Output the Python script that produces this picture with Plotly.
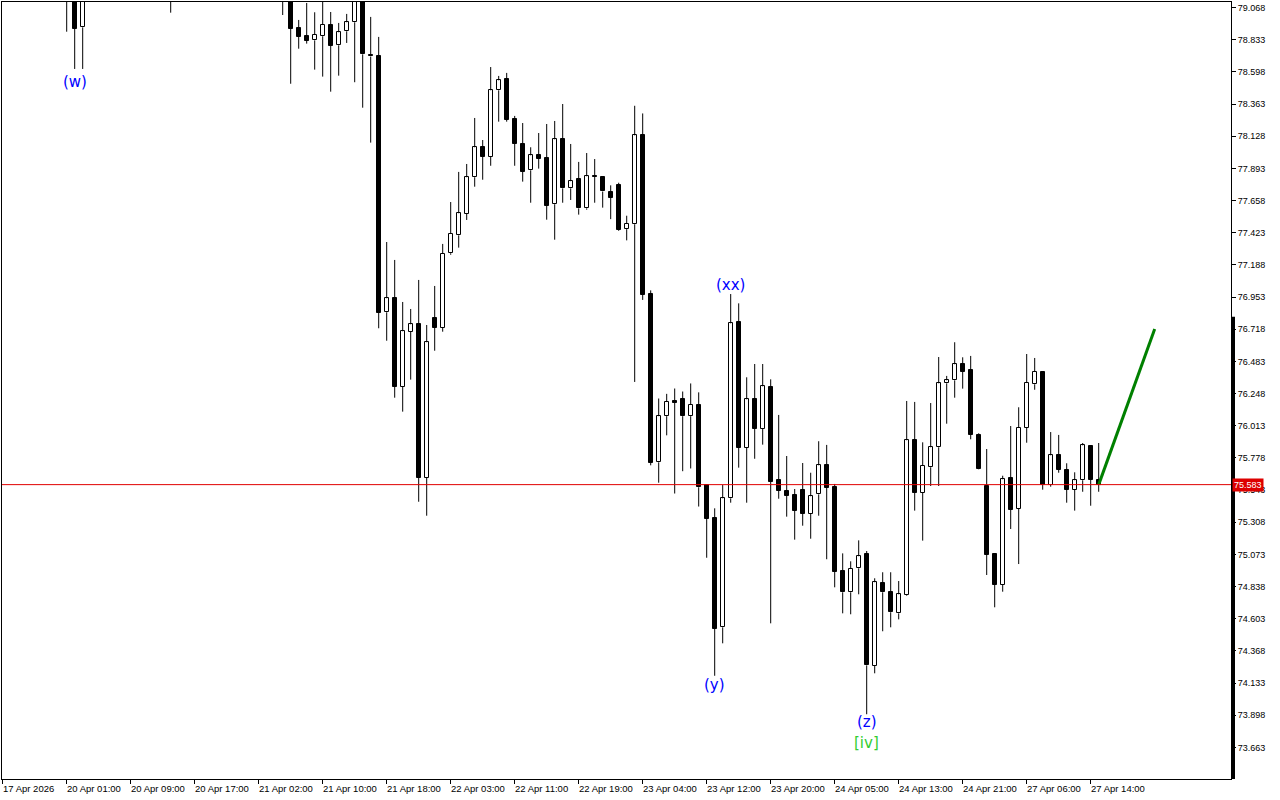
import plotly.graph_objects as go

# ---------------- data ----------------
open_ = [79.45, 79.52, 79.61, 79.55, 79.46, 79.38, 79.42, 79.33, 79.25, 79.20,
         78.923, 79.21, 79.31, 79.38, 79.44, 79.40, 79.45, 79.53, 79.48, 79.42,
         79.36, 79.27, 79.21, 79.30, 79.37, 79.43, 79.50, 79.47, 79.52, 79.58,
         79.54, 79.45, 79.39, 79.44, 79.34, 79.27, 79.20, 78.918, 78.860, 78.828,
         78.858, 78.940, 78.792, 78.894, 78.960, 79.115, 78.721, 78.714, 76.842, 76.944,
         76.298, 76.700, 76.754, 75.634, 76.798, 76.727, 77.273, 77.404, 77.562, 77.828,
         78.047, 77.978, 78.463, 78.544, 78.251, 78.069, 77.879, 77.988, 77.967, 77.631,
         78.105, 77.747, 77.813, 77.601, 77.835, 77.831, 77.718, 77.775, 77.449, 77.485,
         78.134, 76.977, 75.746, 76.083, 76.192, 76.207, 76.083, 76.168, 75.577, 75.339,
         74.541, 75.483, 76.769, 75.853, 76.208, 75.992, 76.296, 75.615, 75.534, 75.505,
         75.542, 75.371, 75.512, 75.724, 75.564, 74.952, 74.797, 74.972, 75.074, 74.258,
         74.862, 74.797, 74.643, 74.775, 75.907, 75.524, 75.710, 75.856, 76.323, 76.345,
         76.462, 76.418, 75.946, 75.573, 75.076, 74.852, 75.631, 75.407, 75.997, 76.316,
         76.406, 75.583, 75.799, 75.692, 75.546, 75.615, 75.865, 75.619]
high = [79.58, 79.66, 79.70, 79.62, 79.54, 79.47, 79.51, 79.40, 79.31, 79.24,
        79.26, 79.36, 79.42, 79.50, 79.52, 79.49, 79.58, 79.60, 79.55, 79.50,
        79.44, 79.33, 79.35, 79.41, 79.47, 79.55, 79.61, 79.56, 79.63, 79.66,
        79.60, 79.52, 79.48, 79.50, 79.41, 79.33, 79.24, 78.977, 79.101, 79.033,
        79.12, 79.035, 78.955, 79.021, 79.15, 79.14, 78.999, 78.853, 77.355, 77.224,
        76.917, 76.866, 77.078, 76.749, 77.034, 77.341, 77.647, 77.867, 77.925, 78.261,
        78.100, 78.633, 78.568, 78.590, 78.276, 78.224, 78.047, 78.151, 78.217, 78.239,
        78.363, 78.071, 77.940, 78.005, 77.961, 77.837, 77.769, 77.788, 77.547, 78.350,
        78.294, 77.002, 76.212, 76.246, 76.285, 76.263, 76.322, 76.257, 75.580, 75.410,
        75.580, 76.975, 76.907, 76.367, 76.464, 76.464, 76.352, 76.092, 75.792, 75.551,
        75.741, 75.670, 75.900, 75.873, 75.588, 75.081, 75.023, 75.176, 75.098, 74.899,
        74.943, 74.943, 74.879, 76.194, 76.187, 75.892, 76.179, 76.515, 76.377, 76.623,
        76.513, 76.523, 75.958, 75.843, 75.076, 75.648, 76.011, 76.148, 76.537, 76.508,
        76.406, 75.967, 75.946, 75.739, 75.673, 75.887, 75.865, 75.887]
low = [79.38, 79.47, 79.50, 79.41, 79.33, 79.30, 79.29, 79.18, 78.891, 78.619,
       78.619, 79.16, 79.25, 79.33, 79.35, 79.31, 79.41, 79.44, 79.37, 79.30,
       79.19, 79.030, 79.17, 79.24, 79.30, 79.38, 79.44, 79.39, 79.45, 79.49,
       79.40, 79.33, 79.30, 79.28, 79.22, 79.013, 78.511, 78.767, 78.804, 78.614,
       78.563, 78.453, 78.570, 78.809, 78.522, 78.336, 78.081, 76.725, 76.634, 76.218,
       76.116, 76.350, 75.458, 75.356, 76.561, 76.700, 77.262, 77.314, 77.516, 77.759,
       77.810, 77.912, 78.234, 78.234, 77.912, 77.796, 77.642, 77.891, 77.518, 77.372,
       77.642, 77.662, 77.555, 77.591, 77.642, 77.606, 77.522, 77.437, 77.367, 76.333,
       76.932, 75.724, 75.597, 75.943, 75.518, 75.681, 75.701, 75.423, 75.049, 74.187,
       74.424, 75.451, 75.707, 75.451, 75.772, 75.875, 74.570, 75.480, 75.349, 75.181,
       75.283, 75.188, 75.356, 75.038, 74.833, 74.643, 74.636, 74.782, 73.906, 74.205,
       74.512, 74.541, 74.599, 74.770, 75.393, 75.174, 75.573, 75.573, 76.028, 76.218,
       76.284, 75.914, 75.695, 74.923, 74.687, 74.801, 75.259, 75.003, 75.889, 76.276,
       75.546, 75.568, 75.670, 75.451, 75.393, 75.531, 75.429, 75.531]
close = [79.52, 79.61, 79.55, 79.46, 79.38, 79.42, 79.33, 79.25, 79.20, 78.913,
         79.21, 79.31, 79.38, 79.44, 79.40, 79.45, 79.53, 79.48, 79.42, 79.36,
         79.27, 79.21, 79.30, 79.37, 79.43, 79.50, 79.47, 79.52, 79.58, 79.54,
         79.45, 79.39, 79.44, 79.34, 79.27, 79.20, 78.913, 78.855, 78.826, 78.867,
         78.940, 78.789, 78.887, 78.960, 79.115, 78.726, 78.710, 76.839, 76.944, 76.298,
         76.703, 76.754, 75.634, 76.623, 76.729, 77.268, 77.414, 77.565, 77.828, 78.047,
         77.978, 78.463, 78.536, 78.248, 78.073, 77.869, 77.988, 77.964, 77.620, 78.105,
         77.747, 77.799, 77.601, 77.835, 77.832, 77.724, 77.677, 77.446, 77.488, 78.134,
         76.968, 75.743, 76.083, 76.187, 76.181, 76.083, 76.165, 75.564, 75.334, 74.531,
         75.483, 76.761, 75.853, 76.206, 75.992, 76.301, 75.604, 75.539, 75.502, 75.393,
         75.371, 75.498, 75.724, 75.561, 74.948, 74.797, 74.969, 75.060, 74.263, 74.870,
         74.797, 74.651, 74.782, 75.907, 75.524, 75.721, 75.856, 76.323, 76.345, 76.462,
         76.408, 75.948, 75.699, 75.071, 74.852, 75.622, 75.400, 75.997, 76.325, 76.406,
         75.583, 75.797, 75.692, 75.546, 75.615, 75.870, 75.619, 75.583]

x_tick_labels = ["17 Apr 2026", "20 Apr 01:00", "20 Apr 09:00", "20 Apr 17:00",
                 "21 Apr 02:00", "21 Apr 10:00", "21 Apr 18:00", "22 Apr 03:00",
                 "22 Apr 11:00", "22 Apr 19:00", "23 Apr 04:00", "23 Apr 12:00",
                 "23 Apr 20:00", "24 Apr 05:00", "24 Apr 13:00", "24 Apr 21:00",
                 "27 Apr 06:00", "27 Apr 14:00"]
bars_per_tick = 8

y_tick_labels = ["73.663", "73.898", "74.133", "74.368", "74.603", "74.838",
                 "75.073", "75.308", "75.543", "75.778", "76.013", "76.248",
                 "76.483", "76.718", "76.953", "77.188", "77.423", "77.658",
                 "77.893", "78.128", "78.363", "78.598", "78.833", "79.068"]

current_price = 75.583

forecast_x = [137, 144]
forecast_y = [75.583, 76.72]

wave_text = ["(w)", "(xx)", "(y)", "(z)", "[iv]"]
wave_x = [9, 91, 89, 108, 108]
wave_y = [78.525, 77.041, 74.120, 73.849, 73.696]
wave_color = ["#0000ff", "#0000ff", "#0000ff", "#0000ff", "#32cd32"]

# ---------------- figure ----------------
n = len(open_)
idx = list(range(n))

# wicks (upper and lower parts, not crossing the body)
wx, wy = [], []
for i in idx:
    top = max(open_[i], close[i])
    bot = min(open_[i], close[i])
    if high[i] > top:
        wx += [i, i, None]
        wy += [high[i], top, None]
    if low[i] < bot:
        wx += [i, i, None]
        wy += [bot, low[i], None]

body_base = [min(o, c) for o, c in zip(open_, close)]
body_h = [abs(c - o) for o, c in zip(open_, close)]
body_fill = ["#ffffff" if c >= o else "#000000" for o, c in zip(open_, close)]

fig = go.Figure()
fig.add_trace(go.Scatter(x=wx, y=wy, mode="lines",
                         line=dict(color="#000000", width=1),
                         hoverinfo="skip", showlegend=False))
fig.add_trace(go.Bar(x=idx, y=body_h, base=body_base, width=0.5,
                     marker=dict(color=body_fill,
                                 line=dict(color="#000000", width=1)),
                     hoverinfo="skip", showlegend=False))
fig.add_trace(go.Scatter(x=forecast_x, y=forecast_y, mode="lines",
                         line=dict(color="#008000", width=3),
                         hoverinfo="skip", showlegend=False))

fig.add_shape(type="line", xref="paper", x0=0, x1=1, yref="y",
              y0=current_price, y1=current_price,
              line=dict(color="#e00000", width=1))

# thick bar on the right price scale
fig.add_shape(type="rect", xref="paper", yref="paper",
              x0=1.0, x1=1.0 + 4 / 1229, y0=0, y1=0.595,
              fillcolor="#000000", line=dict(width=0))

annotations = []
for t, xv, yv, col in zip(wave_text, wave_x, wave_y, wave_color):
    annotations.append(dict(x=xv, y=yv, xref="x", yref="y", text=t,
                            showarrow=False,
                            font=dict(family="DejaVu Sans", size=15, color=col)))

tick_idx = [i * bars_per_tick for i in range(len(x_tick_labels))]
for xv, t in zip(tick_idx, x_tick_labels):
    annotations.append(dict(x=xv, y=0, xref="x", yref="paper", text=t,
                            showarrow=False, xanchor="left", yanchor="top",
                            xshift=-2, yshift=-2,
                            font=dict(family="Liberation Sans", size=9.5, color="#000000")))

annotations.append(dict(x=1.0, y=current_price, xref="paper", yref="y",
                        text="%.3f" % current_price, showarrow=False,
                        xanchor="left", yanchor="middle", xshift=1,
                        bgcolor="#dd0000", borderpad=1,
                        font=dict(family="Liberation Sans", size=9, color="#ffffff")))

fig.update_layout(
    width=1280, height=800,
    margin=dict(l=2, r=49, t=2, b=21),
    paper_bgcolor="#ffffff", plot_bgcolor="#ffffff",
    bargap=0, showlegend=False,
    annotations=annotations,
    xaxis=dict(range=[-0.0875, 153.5375], showgrid=False, zeroline=False,
               showline=True, mirror=True, linecolor="#000000", linewidth=1,
               tickmode="array", tickvals=tick_idx, ticks="outside",
               ticklen=4, tickcolor="#000000", showticklabels=False),
    yaxis=dict(range=[73.433, 79.108], side="right", showgrid=False,
               zeroline=False, showline=True, mirror=True,
               linecolor="#000000", linewidth=1,
               tickmode="array", tickvals=[float(s) for s in y_tick_labels],
               ticktext=y_tick_labels, ticks="outside", ticklen=4,
               tickcolor="#000000",
               tickfont=dict(family="Liberation Sans", size=9, color="#000000")),
)

fig.write_html("out.html", config={"displayModeBar": False},
               post_script="document.body.style.margin='0';document.body.style.overflow='hidden';")
